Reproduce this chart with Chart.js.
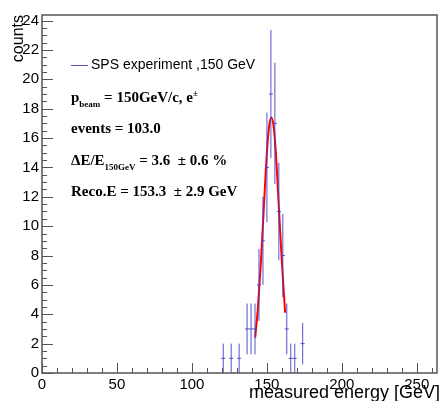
<!DOCTYPE html>
<html>
<head>
<meta charset="utf-8">
<script src="https://cdn.jsdelivr.net/npm/chart.js@4"></script>
<style>
  html, body { margin: 0; padding: 0; background: #fff; }
  canvas { display: block; }
</style>
</head>
<body>
<canvas id="energyChart" width="440" height="401"></canvas>
<script>
// histogram bins (GeV), counts and their error bars
const binCenters = [120.9, 126.2, 131.5, 136.8, 139.45, 142.1, 144.75, 147.4, 150.05, 152.7, 155.35, 158.0, 160.65, 163.3, 165.95, 168.6, 173.9];
const counts = [1, 1, 1, 3, 3, 3, 6, 9, 14, 19, 17, 11, 8, 3, 1, 1, 2];
const countErrors = [1, 1, 1, 1.73, 1.73, 1.73, 2.45, 3, 3.74, 4.36, 4.12, 3.32, 2.83, 1.73, 1, 1, 1.41];
const binWidth = 2.65;

// red gaussian fit, sampled by eye
const fitEnergy = [142.2, 144, 146, 148, 150, 151.5, 153, 154.5, 156, 158, 160, 162.2];
const fitCounts = [2.4, 4.4, 7.5, 11.3, 15.0, 16.8, 17.4, 16.8, 15.0, 11.3, 7.6, 4.1];

const xTicks = [0, 50, 100, 150, 200, 250];
const yTicks = [0, 2, 4, 6, 8, 10, 12, 14, 16, 18, 20, 22, 24];

const legendLabel = "SPS experiment ,150 GeV";
const xTitle = "measured energy [GeV]";
const yTitle = "counts";
const infoLines = [
  [{ t: "p" }, { t: "beam", sub: true }, { t: " = 150GeV/c, e" }, { t: "\u00b1", sup: true }],
  [{ t: "events = 103.0" }],
  [{ t: "\u0394E/E" }, { t: "150GeV", sub: true }, { t: " = 3.6  \u00b1 0.6 %" }],
  [{ t: "Reco.E = 153.3  \u00b1 2.9 GeV" }],
];

const barColor = "rgba(64, 64, 200, 0.9)";
const axisColor = "#555";

// build error bar segments, null breaks the line between them
const errorBarPoints = [];
binCenters.forEach((x, i) => {
  const c = counts[i];
  const e = countErrors[i];
  errorBarPoints.push({ x: x, y: c - e }, { x: x, y: c + e }, { x: x, y: null });
  errorBarPoints.push({ x: x - binWidth / 2, y: c }, { x: x + binWidth / 2, y: c }, { x: x, y: null });
});

const fitPoints = fitEnergy.map((x, i) => ({ x: x, y: fitCounts[i] }));

function drawParts(ctx, x, y, parts) {
  parts.forEach((p) => {
    ctx.font = p.sub || p.sup ? 'bold 9px "Liberation Serif"' : 'bold 15px "Liberation Serif"';
    const dy = p.sub ? 5 : p.sup ? -6 : 0;
    ctx.fillText(p.t, x, y + dy);
    x += ctx.measureText(p.t).width;
  });
}

const rootFrame = {
  id: "rootFrame",
  afterDraw(chart) {
    const { ctx, chartArea: a } = chart;
    const xs = chart.scales.x;
    const ys = chart.scales.y;
    ctx.save();
    ctx.strokeStyle = axisColor;
    ctx.lineWidth = 1.5;
    ctx.strokeRect(a.left, a.top, a.right - a.left, a.bottom - a.top);

    // inward ticks
    ctx.lineWidth = 1;
    ctx.beginPath();
    for (let v = 0; v <= xs.max; v += 10) {
      const px = Math.round(xs.getPixelForValue(v)) + 0.5;
      const len = v % 50 === 0 ? 10 : 5;
      ctx.moveTo(px, a.bottom);
      ctx.lineTo(px, a.bottom - len);
    }
    for (let v = 0; v <= ys.max; v += 0.5) {
      const py = Math.round(ys.getPixelForValue(v)) + 0.5;
      const len = v % 2 === 0 ? 11 : 5;
      ctx.moveTo(a.left, py);
      ctx.lineTo(a.left + len, py);
    }
    ctx.stroke();

    // axis titles
    ctx.fillStyle = "#000";
    ctx.font = '18px "Liberation Sans"';
    ctx.textAlign = "right";
    ctx.textBaseline = "alphabetic";
    ctx.fillText(xTitle, 440, 398);

    ctx.save();
    ctx.translate(23, 15);
    ctx.rotate(-Math.PI / 2);
    ctx.font = '16px "Liberation Sans"';
    ctx.fillText(yTitle, 0, 0);
    ctx.restore();

    // legend entry
    ctx.strokeStyle = barColor;
    ctx.beginPath();
    ctx.moveTo(71, 65.5);
    ctx.lineTo(88, 65.5);
    ctx.stroke();
    ctx.textAlign = "left";
    ctx.textBaseline = "middle";
    ctx.font = '14px "Liberation Sans"';
    ctx.fillText(legendLabel, 91, 65);

    // fit info
    ctx.textBaseline = "alphabetic";
    const lineY = [102, 133, 165, 196];
    infoLines.forEach((parts, i) => drawParts(ctx, 71, lineY[i], parts));
    ctx.restore();
  },
};

const ctx = document.getElementById("energyChart").getContext("2d");
const tickFont = { family: '"Liberation Sans"', size: 15 };

new Chart(ctx, {
  type: "scatter",
  data: {
    datasets: [
      {
        label: legendLabel,
        data: errorBarPoints,
        showLine: true,
        spanGaps: false,
        borderColor: barColor,
        borderWidth: 1,
        pointRadius: 0,
      },
      {
        label: "fit",
        data: fitPoints,
        showLine: true,
        borderColor: "#ff0000",
        borderWidth: 2,
        pointRadius: 0,
        cubicInterpolationMode: "monotone",
      },
    ],
  },
  options: {
    responsive: false,
    animation: false,
    events: [],
    layout: { padding: { top: 15, right: 3, left: 0, bottom: 0 } },
    plugins: { legend: { display: false }, tooltip: { enabled: false } },
    scales: {
      x: {
        type: "linear",
        min: 0,
        max: 263.5,
        grid: { display: false, drawTicks: false },
        border: { display: false },
        afterBuildTicks: (s) => { s.ticks = xTicks.map((v) => ({ value: v })); },
        afterFit: (s) => { s.height = 28; },
        ticks: { font: tickFont, color: "#000", padding: 3, maxRotation: 0, autoSkip: false },
      },
      y: {
        min: 0,
        max: 24.38,
        grid: { display: false, drawTicks: false },
        border: { display: false },
        afterBuildTicks: (s) => { s.ticks = yTicks.map((v) => ({ value: v })); },
        afterFit: (s) => { s.width = 42; },
        ticks: { font: tickFont, color: "#000", padding: 3, autoSkip: false },
      },
    },
  },
  plugins: [rootFrame],
});
</script>
</body>
</html>
